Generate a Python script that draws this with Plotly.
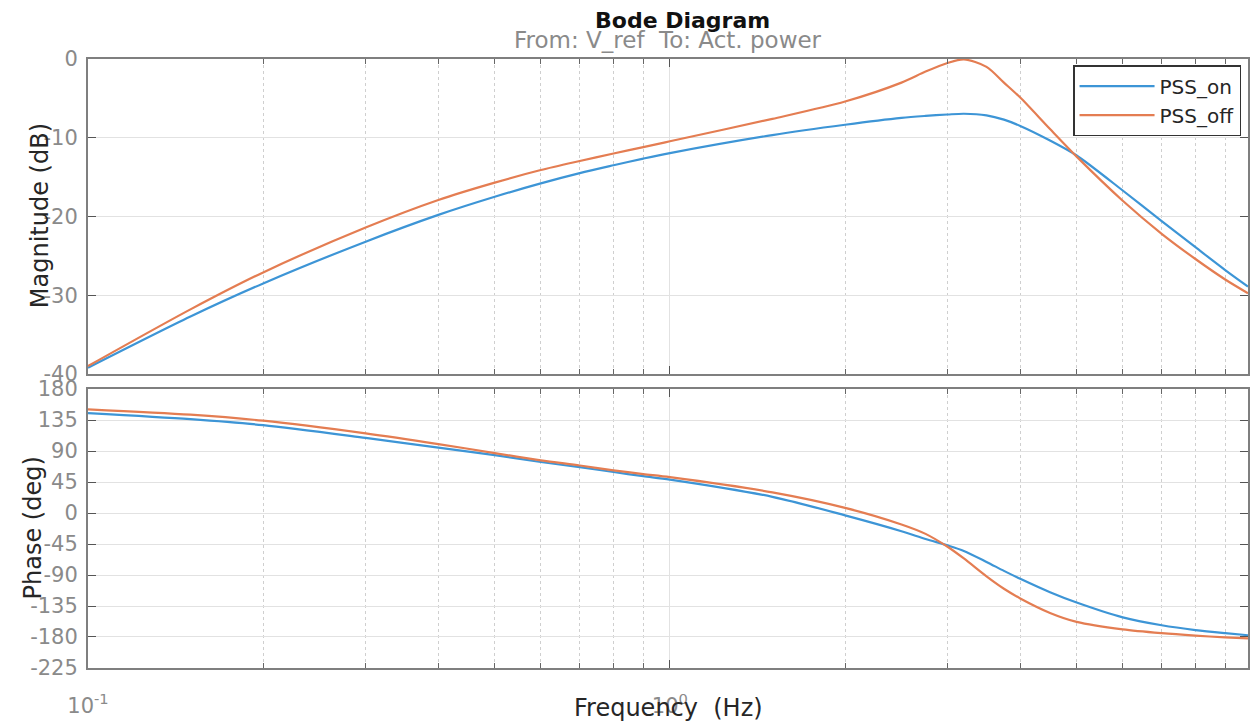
import numpy as np
import plotly.graph_objects as go

# ---------------- data ----------------
freq = [0.1, 0.15, 0.2, 0.3, 0.4, 0.5, 0.6, 0.7, 0.8, 0.9, 1.0, 1.5, 2.0, 2.5, 2.75,
        3.0, 3.2, 3.5, 3.75, 4.0, 4.5, 5.0, 6.0, 7.0, 8.0, 9.0, 9.85]

mag_on = [-39.2, -32.7, -28.5, -23.2, -19.8, -17.5, -15.8, -14.5, -13.5, -12.65, -11.95,
          -9.66, -8.35, -7.48, -7.23, -7.05, -6.95, -7.15, -7.7, -8.5, -10.35, -12.25,
          -16.7, -20.6, -23.9, -26.8, -28.9]
mag_off = [-39.0, -31.8, -27.1, -21.4, -17.9, -15.7, -14.1, -12.95, -12.0, -11.2, -10.45,
           -7.6, -5.4, -3.0, -1.6, -0.5, -0.05, -1.0, -3.0, -4.9, -8.9, -12.4, -18.0,
           -22.2, -25.4, -28.0, -29.75]

phase_on = [145, 136.2, 127.5, 109, 95, 84, 74, 66.5, 59.5, 53.5, 48.5, 23.5, -3.4,
            -26.4, -37.7, -47, -55, -71, -84, -95.5, -115, -130, -151.5, -163, -170,
            -174.5, -177.5]
phase_off = [150.5, 142.7, 134, 115.5, 100, 87, 76.5, 69, 62, 56.5, 52, 30, 7.5,
             -16.6, -30.3, -49, -66, -92, -110, -124, -145, -158, -169, -174.5, -178,
             -180.5, -182]

series_names = ["PSS_on", "PSS_off"]
mag_ticks = [0, -10, -20, -30, -40]
mag_ticktext = ["0", "-10", "-20", "-30", "-40"]
phase_ticks = [180, 135, 90, 45, 0, -45, -90, -135, -180, -225]
phase_ticktext = ["180", "135", "90", "45", "0", "-45", "-90", "-135", "-180", "-225"]
x_major = [0.1, 1.0]
x_major_text = ["10<sup>-1</sup>", "10<sup>0</sup>"]
x_minor = [0.2, 0.3, 0.4, 0.5, 0.6, 0.7, 0.8, 0.9, 2, 3, 4, 5, 6, 7, 8, 9]

# ---------------- styling ----------------
BLUE = "#3d95d6"
ORANGE = "#e47d52"
FONT = "DejaVu Sans"
TICKFONT = dict(family=FONT, size=21, color="#8a8a8a")
AXCOL = "#7f7f7f"
GRID = "#e2e2e2"
MINORGRID = "#cfcfcf"

fig = go.Figure()
fig.add_trace(go.Scatter(x=freq, y=mag_on, mode="lines", name=series_names[0],
                         line=dict(color=BLUE, width=2.2, shape="spline", smoothing=0.8),
                         xaxis="x", yaxis="y"))
fig.add_trace(go.Scatter(x=freq, y=mag_off, mode="lines", name=series_names[1],
                         line=dict(color=ORANGE, width=2.2, shape="spline", smoothing=0.8),
                         xaxis="x", yaxis="y"))
fig.add_trace(go.Scatter(x=freq, y=phase_on, mode="lines", name=series_names[0],
                         line=dict(color=BLUE, width=2.2, shape="spline", smoothing=0.8),
                         xaxis="x2", yaxis="y2", showlegend=False))
fig.add_trace(go.Scatter(x=freq, y=phase_off, mode="lines", name=series_names[1],
                         line=dict(color=ORANGE, width=2.2, shape="spline", smoothing=0.8),
                         xaxis="x2", yaxis="y2", showlegend=False))

xr = [np.log10(0.1), np.log10(9.85)]

def xaxis_common(show_labels):
    return dict(
        type="log", range=xr, tickmode="array", tickvals=x_major,
        ticktext=x_major_text, showticklabels=show_labels,
        ticks="inside", ticklen=8, tickwidth=1.2, tickcolor="#555",
        showgrid=True, gridcolor=GRID, gridwidth=1,
        minor=dict(tickmode="array", tickvals=x_minor, ticks="inside", ticklen=5,
                   tickcolor="#666", showgrid=True, griddash="dot",
                   gridcolor=MINORGRID, gridwidth=1),
        showline=True, linecolor=AXCOL, linewidth=2, mirror="ticks",
        zeroline=False, tickfont=TICKFONT, ticklabelstandoff=18,
    )

def yaxis_common(rng, tv, tt, dom):
    return dict(
        range=rng, tickmode="array", tickvals=tv, ticktext=tt, domain=dom,
        ticks="inside", ticklen=8, tickwidth=1.2, tickcolor="#555",
        showgrid=True, gridcolor=GRID, gridwidth=1,
        showline=True, linecolor=AXCOL, linewidth=2, mirror="ticks",
        zeroline=False, tickfont=TICKFONT, ticklabelstandoff=4,
    )

fig.update_layout(
    width=1258, height=727,
    margin=dict(l=88, r=8, t=59, b=59),
    paper_bgcolor="white", plot_bgcolor="white",
    font=dict(family=FONT, color="#262626"),
    xaxis=dict(**xaxis_common(False), anchor="y"),
    xaxis2=dict(**xaxis_common(True), anchor="y2", matches="x"),
    yaxis=dict(**yaxis_common([-40, 0], mag_ticks, mag_ticktext, [0.4828, 1.0]), anchor="x"),
    yaxis2=dict(**yaxis_common([-225, 180], phase_ticks, phase_ticktext, [0.0, 0.4581]), anchor="x2"),
    legend=dict(x=0.994, y=0.990, xanchor="right", yanchor="top",
                bgcolor="white", bordercolor="#333", borderwidth=1.5,
                font=dict(family=FONT, size=20, color="#262626"),
                itemwidth=75, tracegroupgap=0),
    showlegend=True,
    annotations=[
        dict(text="<b>Bode Diagram</b>", xref="paper", yref="paper", x=0.5129, y=1.064,
             xanchor="center", yanchor="middle", showarrow=False,
             font=dict(family=FONT, size=22, color="#111")),
        dict(text="From: V_ref  To: Act. power", xref="paper", yref="paper",
             x=0.5, y=1.031, xanchor="center", yanchor="middle", showarrow=False,
             font=dict(family=FONT, size=23, color="#8a8a8a")),
        dict(text="Magnitude (dB)", xref="paper", yref="paper", x=-0.0413, y=0.742,
             xanchor="center", yanchor="middle", textangle=-90, showarrow=False,
             font=dict(family=FONT, size=24, color="#262626")),
        dict(text="Phase (deg)", xref="paper", yref="paper", x=-0.047, y=0.2299,
             xanchor="center", yanchor="middle", textangle=-90, showarrow=False,
             font=dict(family=FONT, size=24, color="#262626")),
        dict(text="Frequency  (Hz)", xref="paper", yref="paper", x=0.5, y=-0.0657,
             xanchor="center", yanchor="middle", showarrow=False,
             font=dict(family=FONT, size=24, color="#262626")),
    ],
)

fig.write_html("out.html")
